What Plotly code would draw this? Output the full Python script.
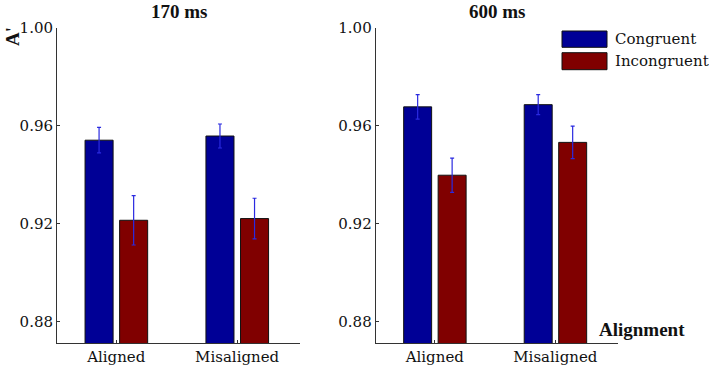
import plotly.graph_objects as go

categories = ["Aligned", "Misaligned"]
panels = ["170 ms", "600 ms"]
series_names = ["Congruent", "Incongruent"]

congruent_170 = [0.9542, 0.9559]
incongruent_170 = [0.9215, 0.9222]
congruent_170_err = [0.0052, 0.0049]
incongruent_170_err = [0.0101, 0.0083]

congruent_600 = [0.9678, 0.9687]
incongruent_600 = [0.9399, 0.9533]
congruent_600_err = [0.0050, 0.0041]
incongruent_600_err = [0.0070, 0.0066]

y_ticks = [0.88, 0.92, 0.96, 1.00]

BLUE = "#000096"
RED = "#800000"
ERR = "#2a2ae0"
AX = "#333333"
SERIF = "DejaVu Serif"
W, H = 709, 369

fig = go.Figure()

data = [
    ("x", "y", congruent_170, congruent_170_err, incongruent_170, incongruent_170_err),
    ("x2", "y2", congruent_600, congruent_600_err, incongruent_600, incongruent_600_err),
]
for xa, ya, cv, ce, iv, ie in data:
    for name, vals, errs, col, off in [
        (series_names[0], cv, ce, BLUE, -0.258),
        (series_names[1], iv, ie, RED, 0.028),
    ]:
        fig.add_trace(go.Bar(
            x=categories, y=vals, name=name, xaxis=xa, yaxis=ya,
            width=0.232, offset=off,
            marker=dict(color=col, line=dict(color="#111111", width=1)),
            error_y=dict(type="data", array=errs, color=ERR, thickness=1.2, width=2),
            showlegend=False, hoverinfo="skip",
        ))

xdom1 = [57 / W, 300 / W]
xdom2 = [375.7 / W, 618 / W]
ydom = [1 - 343 / H, 1 - 28 / H]

xcommon = dict(
    type="category", range=[-0.49, 1.52], showline=True, linecolor=AX, linewidth=1,
    ticks="inside", ticklen=3, tickcolor=AX, showgrid=False, zeroline=False,
    automargin=False,
    tickfont=dict(family=SERIF, size=15, color="#111111"),
)
ycommon = dict(
    range=[0.8714, 1.0], tickvals=y_ticks, ticktext=[f"{v:.2f}" for v in y_ticks],
    showline=True, linecolor=AX, linewidth=1, ticks="inside", ticklen=3, tickcolor=AX,
    showgrid=False, zeroline=False, domain=ydom, automargin=False,
    tickfont=dict(family=SERIF, size=15, color="#111111"),
)

fig.update_layout(
    width=W, height=H, margin=dict(l=0, r=0, t=0, b=0, pad=0), autosize=False,
    paper_bgcolor="white", plot_bgcolor="white", barmode="overlay",
    xaxis=dict(domain=xdom1, anchor="y", **xcommon),
    yaxis=dict(anchor="x", **ycommon),
    xaxis2=dict(domain=xdom2, anchor="y2", **xcommon),
    yaxis2=dict(anchor="x2", **ycommon),
)

ann = []
for t, dom in zip(panels, [xdom1, xdom2]):
    ann.append(dict(text=f"<b>{t}</b>", x=(dom[0] + dom[1]) / 2, y=1.0,
                    xref="paper", yref="paper", showarrow=False, xanchor="center",
                    yanchor="top", borderpad=0,
                    font=dict(family="Liberation Serif", size=19, color="#111111")))
ann.append(dict(text="<b>A'</b>", x=12 / W, y=1 - 37 / H, xref="paper", yref="paper",
                showarrow=False, textangle=-90, xanchor="center", yanchor="middle",
                font=dict(family="Liberation Serif", size=19, color="#111111")))
ann.append(dict(text="<b>Alignment</b>", x=642 / W, y=1 - 329 / H, xref="paper", yref="paper",
                showarrow=False, xanchor="center", yanchor="middle",
                font=dict(family="Liberation Serif", size=19, color="#111111")))

shapes = []
for i, (name, col) in enumerate(zip(series_names, [BLUE, RED])):
    y0 = [31, 52.7][i]
    y1 = [47.3, 69.7][i]
    shapes.append(dict(type="rect", xref="paper", yref="paper",
                       x0=562 / W, x1=607 / W, y0=1 - y1 / H, y1=1 - y0 / H,
                       fillcolor=col, line=dict(color="#111111", width=1)))
    ann.append(dict(text=name, x=612.5 / W, y=1 - (y0 + y1) / 2 / H, xref="paper", yref="paper",
                    showarrow=False, xanchor="left", yanchor="middle",
                    font=dict(family=SERIF, size=15, color="#111111")))

fig.update_layout(annotations=ann, shapes=shapes)
fig.write_html("out.html", config={"displayModeBar": False},
               post_script="document.body.style.margin='0';document.body.style.overflow='hidden';")
